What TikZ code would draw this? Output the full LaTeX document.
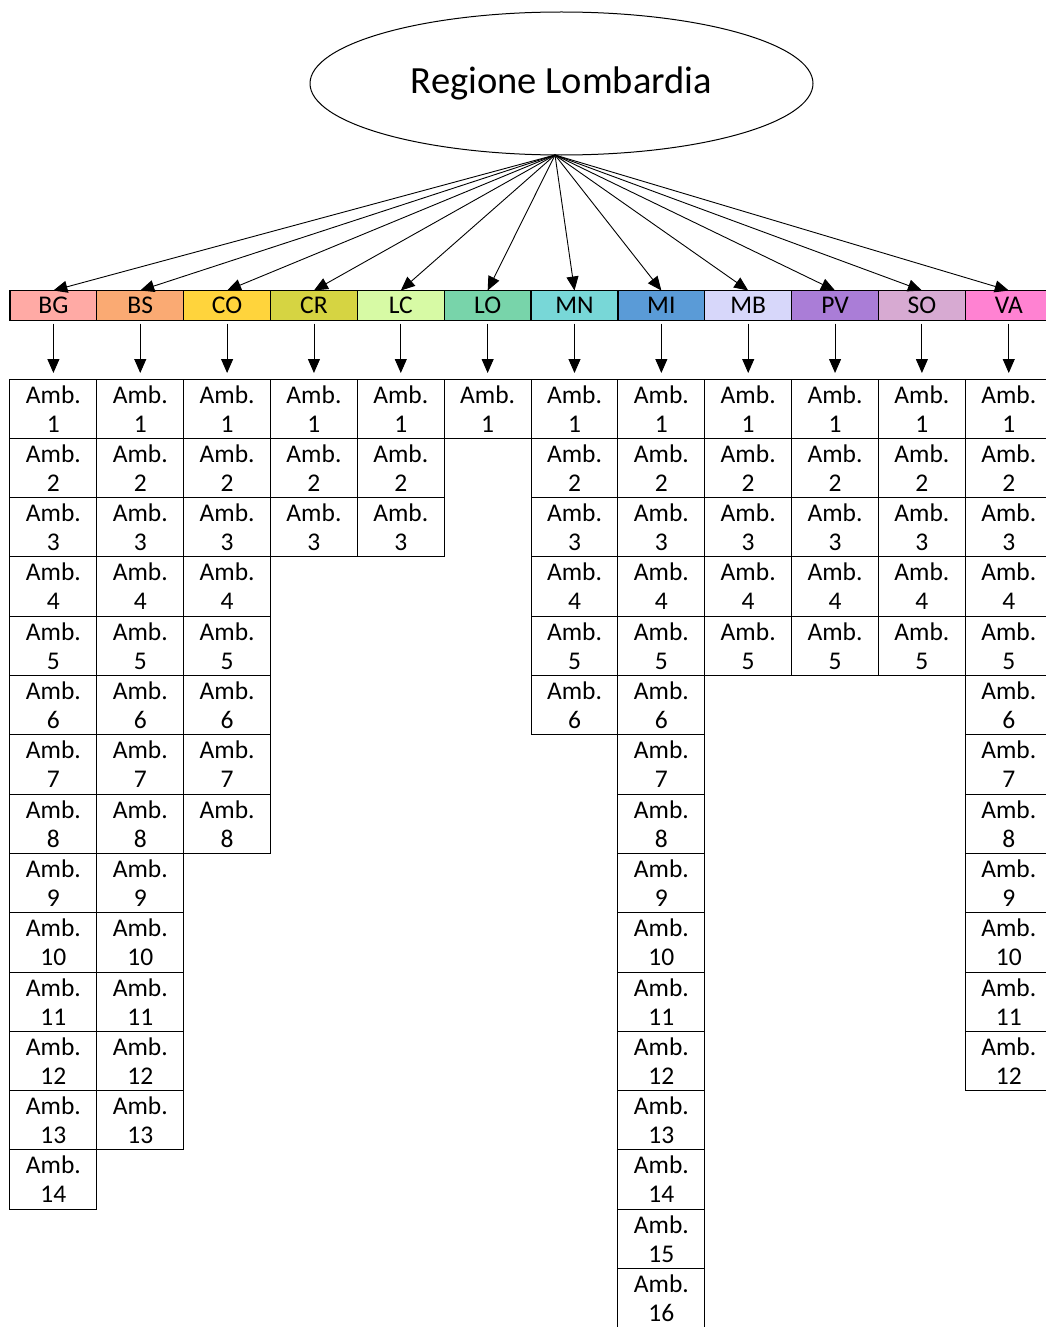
\documentclass[tikz,border=0pt]{standalone}
\usepackage{fontspec}
\setmainfont{Carlito}
\usetikzlibrary{arrows.meta,shapes.geometric}
% province colours
\definecolor{cBG}{RGB}{255,170,165}
\definecolor{cBS}{RGB}{250,170,115}
\definecolor{cCO}{RGB}{255,212,60}
\definecolor{cCR}{RGB}{214,212,66}
\definecolor{cLC}{RGB}{215,250,165}
\definecolor{cLO}{RGB}{120,212,170}
\definecolor{cMN}{RGB}{120,215,215}
\definecolor{cMI}{RGB}{90,155,215}
\definecolor{cMB}{RGB}{215,215,250}
\definecolor{cPV}{RGB}{170,125,215}
\definecolor{cSO}{RGB}{215,170,210}
\definecolor{cVA}{RGB}{255,130,210}
\tikzset{
  hdr/.style={draw, line width=1.2pt, minimum width=86.85pt, minimum height=30pt,
    inner sep=0pt, outer sep=0pt, font=\fontsize{25.5}{29}\selectfont},
  cell/.style={draw, line width=1pt, minimum width=86.85pt, minimum height=59.3pt,
    inner sep=0pt, outer sep=0pt, align=center, font=\fontsize{25.5}{29}\selectfont},
  arr/.style={line width=0.9pt, -{Triangle[width=12pt,length=14pt]}},
}
\begin{document}
\begin{tikzpicture}[x=1pt,y=-1pt]
\clip (0,0) rectangle (1046,1327);
\fill[white] (0,0) rectangle (1046,1327);
\node[ellipse, draw, line width=1pt, minimum width=503pt, minimum height=143pt,
  font=\fontsize{38.5}{44}\selectfont] (reg) at (561.5,83.5) {Regione Lombardia};
\coordinate (hub) at (555,155);
\foreach \i/\lab/\col/\n in {1/BG/cBG/14, 2/BS/cBS/13, 3/CO/cCO/8, 4/CR/cCR/3,
    5/LC/cLC/3, 6/LO/cLO/1, 7/MN/cMN/6, 8/MI/cMI/16, 9/MB/cMB/5, 10/PV/cPV/5,
    11/SO/cSO/5, 12/VA/cVA/12} {
  \pgfmathsetmacro{\xc}{10+86.85*(\i-1)+43.4}
  \node[hdr, fill=\col] (h\i) at (\xc,305.5) {\lab};
  \draw[arr] (hub) -- (h\i.north);
  \foreach \j in {1,...,\n} {
    \node[cell] (b\i-\j) at (\xc,{379+59.3*(\j-0.5)}) {Amb.\\\j};
  }
  \draw[arr, shorten <=3pt, shorten >=6pt] (h\i) -- (b\i-1);
}
\end{tikzpicture}
\end{document}
